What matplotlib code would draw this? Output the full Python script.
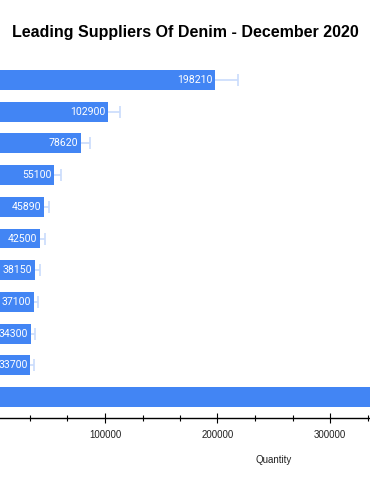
import matplotlib
matplotlib.use("Agg")
import matplotlib.pyplot as plt
from matplotlib.ticker import MultipleLocator, FuncFormatter

categories = ["Supplier 1", "Supplier 2", "Supplier 3", "Supplier 4", "Supplier 5",
              "Supplier 6", "Supplier 7", "Supplier 8", "Supplier 9", "Supplier 10",
              "Others"]
values = [198210, 102900, 78620, 55100, 45890, 42500, 38150, 37100, 34300, 33700, 450000]
errors = [19800, 10300, 7900, 5500, 4600, 4200, 3800, 3700, 3400, 3400, 45000]
show_label = [True] * 10 + [False]
visible_ticks = [100000, 200000, 300000]

plt.rcParams['font.family'] = ['Liberation Sans', 'DejaVu Sans']

fig = plt.figure(figsize=(3.7, 4.9), dpi=100)
fig.patch.set_facecolor('white')
ax = fig.add_axes([-7.5 / 370, 72 / 490, 562.5 / 370, 359 / 490])

y = list(range(len(categories)))
ax.errorbar(values, y, xerr=errors, fmt='none', ecolor='#c9dcfc', elinewidth=1.2,
            capsize=4, capthick=1.2, zorder=1)
bars = ax.barh(y, values, height=0.63, color='#4285F4', zorder=2)
for v, yi, s in zip(values, y, show_label):
    if s:
        ax.text(v - 2600, yi, f"{v}", ha='right', va='center', color='white',
                fontsize=7.6, family=['Roboto', 'DejaVu Sans'], zorder=3)

ax.set_xlim(0, 500000)
ax.set_ylim(10.66, -0.66)
ax.set_yticks(y)
ax.set_yticklabels(categories)
ax.tick_params(axis='y', length=0, labelleft=False)

ax.xaxis.set_major_locator(MultipleLocator(100000))
ax.xaxis.set_minor_locator(MultipleLocator(100000 / 3))
ax.xaxis.set_major_formatter(FuncFormatter(
    lambda v, p: f"{int(round(v))}" if int(round(v)) in visible_ticks else ""))
ax.tick_params(axis='x', which='major', direction='inout', length=7, width=0.8,
               labelsize=7, labelcolor='#222222', pad=5)
ax.tick_params(axis='x', which='minor', direction='inout', length=4.5, width=0.8)

for s in ['top', 'right', 'left']:
    ax.spines[s].set_visible(False)
ax.spines['bottom'].set_linewidth(1)

ax.set_xlabel("Quantity", fontsize=7, color='#222222', labelpad=11)

fig.text(185 / 370, 1 - 33 / 490, "Leading Suppliers Of Denim - December 2020",
         ha='center', va='center', fontsize=11.5, fontweight='bold', color='black')

fig.savefig("out.png", dpi=100)
